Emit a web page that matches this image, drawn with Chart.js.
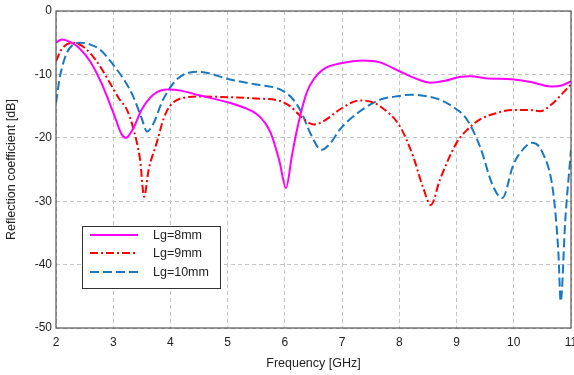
<!DOCTYPE html>
<html>
<head>
<meta charset="utf-8">
<script src="https://cdn.jsdelivr.net/npm/chart.js@4.4.1/dist/chart.umd.min.js"></script>
<style>
  html, body { margin: 0; padding: 0; background: #fff; }
  #wrap { width: 574px; height: 375px; position: relative; }
</style>
</head>
<body>
<div id="wrap"><canvas id="s11Chart"></canvas></div>
<script>
// --- DATA ---
const xTicks = [2, 3, 4, 5, 6, 7, 8, 9, 10, 11];
const yTicks = [0, -10, -20, -30, -40, -50];
const seriesNames = ['Lg=8mm', 'Lg=9mm', 'Lg=10mm'];

// Lg=8mm
const freq8 = [2.0, 2.1, 2.25, 2.4, 2.6, 2.8, 3.0, 3.15, 3.22, 3.35, 3.5, 3.7, 3.95, 4.2, 4.5, 5.0, 5.3, 5.5, 5.65, 5.75, 5.9, 6.02, 6.12, 6.2, 6.38, 6.5, 6.67, 7.0, 7.35, 7.66, 8.0, 8.3, 8.55, 8.8, 9.05, 9.25, 9.5, 10.0, 10.3, 10.65, 10.85, 11.0];
const s11_8 = [-5.0, -4.5, -4.9, -5.8, -8.0, -11.5, -16.0, -19.5, -20.0, -18.5, -15.5, -13.2, -12.4, -12.6, -13.3, -14.4, -15.3, -16.2, -17.6, -19.2, -23.5, -27.9, -23.0, -19.2, -12.9, -10.8, -9.2, -8.2, -7.8, -8.1, -9.5, -10.7, -11.3, -11.0, -10.4, -10.3, -10.6, -10.8, -11.2, -11.9, -11.7, -11.1];

// Lg=9mm
const freq9 = [2.0, 2.1, 2.3, 2.5, 2.7, 2.94, 3.1, 3.24, 3.35, 3.47, 3.54, 3.62, 3.76, 3.88, 3.99, 4.28, 4.52, 5.04, 5.5, 5.92, 6.09, 6.3, 6.5, 6.67, 7.0, 7.31, 7.5, 7.66, 8.01, 8.24, 8.42, 8.55, 8.71, 9.0, 9.2, 9.41, 9.7, 9.99, 10.25, 10.46, 10.69, 10.85, 11.0];
const s11_9 = [-7.9, -6.0, -5.0, -5.8, -7.8, -11.3, -13.8, -15.6, -18.5, -23.5, -29.3, -25.0, -20.8, -17.0, -15.0, -13.6, -13.5, -13.6, -13.8, -14.2, -15.0, -16.8, -17.9, -17.4, -15.3, -14.1, -14.3, -15.0, -18.2, -22.9, -28.0, -30.6, -26.6, -20.8, -18.6, -17.1, -16.1, -15.6, -15.6, -15.8, -14.5, -13.0, -11.6];

// Lg=10mm
const freq10 = [2.0, 2.07, 2.19, 2.3, 2.42, 2.6, 2.77, 3.06, 3.2, 3.35, 3.5, 3.59, 3.7, 3.87, 4.11, 4.34, 4.5, 5.04, 5.5, 5.92, 6.15, 6.3, 6.44, 6.64, 6.8, 6.96, 7.3, 7.66, 8.0, 8.19, 8.45, 8.71, 9.0, 9.18, 9.41, 9.64, 9.8, 9.99, 10.11, 10.32, 10.5, 10.69, 10.78, 10.82, 10.9, 11.0];
const s11_10 = [-14.5, -10.3, -6.6, -5.3, -5.0, -5.3, -6.1, -9.2, -11.0, -13.5, -17.0, -19.0, -17.8, -14.0, -10.8, -9.7, -9.6, -10.8, -11.6, -12.4, -14.0, -16.2, -19.2, -21.9, -20.8, -18.7, -15.9, -14.0, -13.4, -13.2, -13.4, -14.0, -15.5, -17.1, -21.4, -27.7, -29.5, -24.3, -22.4, -20.8, -22.3, -28.7, -38.2, -45.8, -33.0, -21.9];

const toPoints = (xs, ys) => xs.map((x, i) => ({ x: x, y: ys[i] }));

const FONT = 'Liberation Sans, Arial, sans-serif';
const TEXT_COLOR = '#222';

// frame around the plot + legend box inside the plot (lower left)
const framePlugin = {
    id: 'frameAndLegend',
    afterDraw(chart) {
        const ctx = chart.ctx;
        const a = chart.chartArea;
        ctx.save();
        ctx.strokeStyle = '#555';
        ctx.lineWidth = 1.2;
        ctx.setLineDash([]);
        ctx.strokeRect(a.left, a.top, a.right - a.left, a.bottom - a.top);

        // legend box
        const bx = a.left + 26, by = a.top + 215, bw = 138, bh = 62;
        ctx.fillStyle = '#fff';
        ctx.fillRect(bx, by, bw, bh);
        ctx.strokeStyle = '#333';
        ctx.lineWidth = 1;
        ctx.strokeRect(bx + 0.5, by + 0.5, bw, bh);

        const rows = [by + 9, by + 27, by + 46];
        chart.data.datasets.forEach((ds, i) => {
            ctx.beginPath();
            ctx.strokeStyle = ds.borderColor;
            ctx.lineWidth = ds.borderWidth;
            ctx.setLineDash(ds.borderDash || []);
            ctx.moveTo(bx + 8, rows[i]);
            ctx.lineTo(bx + 56, rows[i]);
            ctx.stroke();
            ctx.setLineDash([]);
            ctx.fillStyle = TEXT_COLOR;
            ctx.font = '12.5px ' + FONT;
            ctx.textBaseline = 'middle';
            ctx.fillText(ds.label, bx + 71, rows[i] + 1);
        });
        ctx.restore();
    }
};

const ctx = document.getElementById('s11Chart').getContext('2d');
new Chart(ctx, {
    type: 'line',
    data: {
        datasets: [{
            label: seriesNames[0],
            data: toPoints(freq8, s11_8),
            borderColor: '#ff00ff',
            borderWidth: 2,
            borderDash: [],
            pointRadius: 0,
            cubicInterpolationMode: 'monotone'
        }, {
            label: seriesNames[1],
            data: toPoints(freq9, s11_9),
            borderColor: '#ff0000',
            borderWidth: 2,
            borderDash: [8, 3, 2, 3],
            pointRadius: 0,
            cubicInterpolationMode: 'monotone'
        }, {
            label: seriesNames[2],
            data: toPoints(freq10, s11_10),
            borderColor: '#1a78c2',
            borderWidth: 2,
            borderDash: [9, 4],
            pointRadius: 0,
            cubicInterpolationMode: 'monotone'
        }]
    },
    options: {
        responsive: true, maintainAspectRatio: false,
        animation: false,
        layout: { padding: { top: 11, right: 3, left: 0, bottom: 0 } },
        plugins: { legend: { display: false }, tooltip: { enabled: false } },
        scales: {
            x: {
                type: 'linear', min: 2, max: 11,
                afterBuildTicks: (s) => { s.ticks = xTicks.map(v => ({ value: v })); },
                // keep the plot running to the right edge; the last label gets cut like in the original
                afterFit: (s) => { s.height = 47; s.paddingRight = 0; s.paddingLeft = 0; },
                grid: { color: '#c4c4c4', drawTicks: false },
                border: { display: false, dash: [4, 3] },
                ticks: { color: TEXT_COLOR, padding: 7, maxRotation: 0, font: { family: FONT, size: 12 } },
                title: { display: true, text: 'Frequency [GHz]', color: TEXT_COLOR, padding: { top: 4 }, font: { family: FONT, size: 12.5 } }
            },
            y: {
                min: -50, max: 0,
                afterBuildTicks: (s) => { s.ticks = yTicks.map(v => ({ value: v })); },
                afterFit: (s) => { s.width = 56; s.paddingTop = 0; s.paddingBottom = 0; },
                grid: { color: '#c4c4c4', drawTicks: false },
                border: { display: false, dash: [4, 3] },
                ticks: { color: TEXT_COLOR, padding: 4, font: { family: FONT, size: 12 } },
                title: { display: true, text: 'Reflection coefficient [dB]', color: TEXT_COLOR, padding: { bottom: 4 }, font: { family: FONT, size: 12.5 } }
            }
        }
    },
    plugins: [framePlugin]
});
</script>
</body>
</html>
